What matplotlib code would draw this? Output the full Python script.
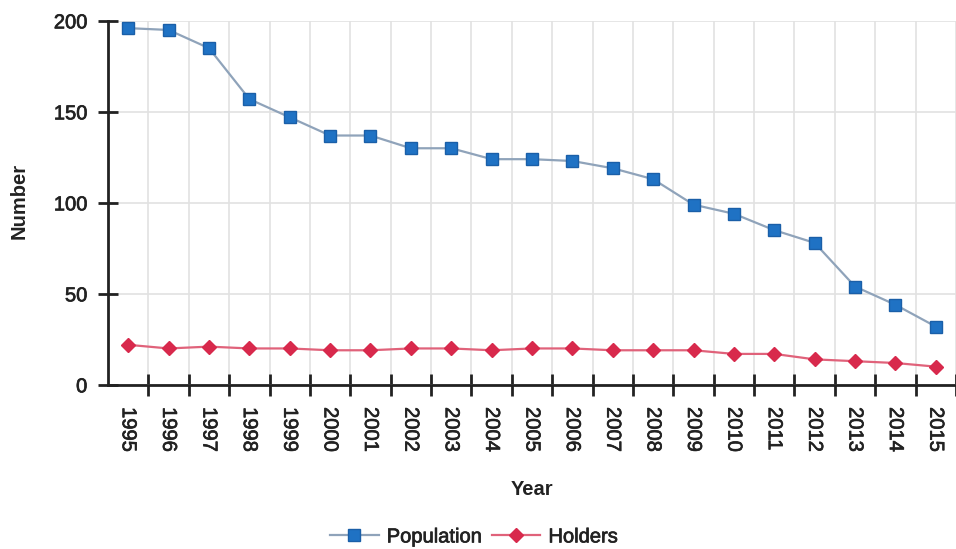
import numpy as np
import matplotlib.pyplot as plt
import matplotlib.patheffects as pe

plt.rcParams['font.family'] = ['Liberation Sans', 'DejaVu Sans']

years = [str(y) for y in range(1995, 2016)]
population = [196, 195, 185, 157, 147, 137, 137, 130, 130, 124, 124,
              123, 119, 113, 99, 94, 85, 78, 54, 44, 32]
holders = [22, 20, 21, 20, 20, 19, 19, 20, 20, 19, 20,
           20, 19, 19, 19, 17, 17, 14, 13, 12, 10]
y_ticks = [0, 50, 100, 150, 200]

ink = '#222222'
heavy = [pe.withStroke(linewidth=0.5, foreground=ink)]

fig = plt.figure(figsize=(9.56, 5.49), dpi=100)
ax = fig.add_axes([0.113, 0.299, 0.887, 0.663])

x = np.arange(len(years))
ax.plot(x, population, color='#8fa3ba', lw=1.6, marker='s', ms=9,
        mfc='#1f72c4', mec='#1a5fa8', zorder=3, label='Population')
ax.plot(x, holders, color='#e0627a', lw=1.6, marker='D', ms=7,
        mfc='#d8294c', mec='#d8294c', zorder=3, label='Holders')

ax.set_xlim(-0.5, len(years) - 0.55)
ax.set_ylim(0, 200)
ax.set_yticks(y_ticks)
ax.set_xticks(x)
ax.set_xticklabels(years, rotation=-90, fontsize=14.5, color=ink)
ax.set_xticks(np.arange(len(years)) + 0.5, minor=True)
ax.tick_params(axis='x', which='major', length=0, pad=16)
ax.tick_params(axis='x', which='minor', direction='inout', length=16,
               width=2, color=ink)
ax.tick_params(axis='y', direction='inout', length=14, width=2,
               color=ink, labelsize=14.5, labelcolor=ink, pad=8)
for lbl in ax.get_xticklabels() + ax.get_yticklabels():
    lbl.set_path_effects(heavy)

ax.grid(True, axis='y', color='#e2e2e2', lw=1.2)
ax.grid(True, axis='x', which='minor', color='#e2e2e2', lw=1.2)
ax.set_axisbelow(True)

for side in ['top', 'right']:
    ax.spines[side].set_visible(False)
for side in ['left', 'bottom']:
    ax.spines[side].set_linewidth(2)
    ax.spines[side].set_color(ink)

ax.set_xlabel('Year', fontsize=14.5, fontweight='bold', color=ink)
ax.set_ylabel('Number', fontsize=14.5, fontweight='bold', color=ink)
ax.xaxis.set_label_coords(0.5, -0.262)
ax.yaxis.set_label_coords(-0.094, 0.505)

leg = fig.legend(handles=ax.get_lines(), loc='center', bbox_to_anchor=(0.496, 0.022),
                 ncol=2, frameon=False, fontsize=14.5, handlelength=2.4,
                 columnspacing=0.5, handletextpad=0.4)
for t in leg.get_texts():
    t.set_color(ink)
    t.set_path_effects(heavy)

fig.savefig('out.png', dpi=100)
